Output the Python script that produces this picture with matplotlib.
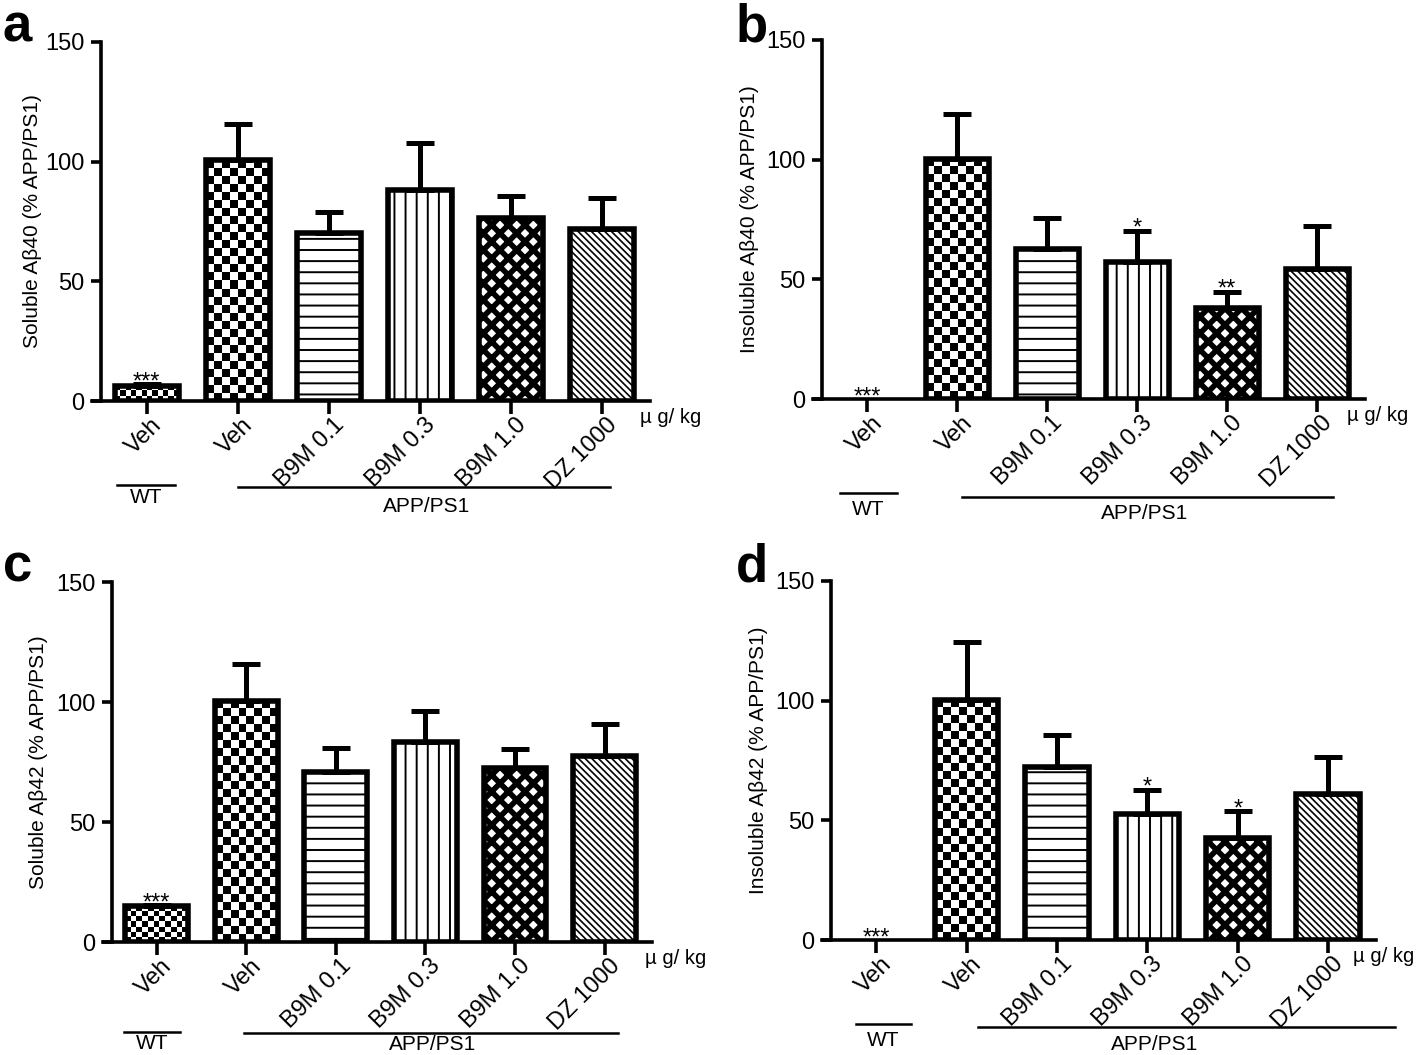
import numpy as np
import matplotlib.pyplot as plt
from matplotlib.transforms import ScaledTranslation, blended_transform_factory

# group labels (x axis)
groups = ['Veh', 'Veh', 'B9M 0.1', 'B9M 0.3', 'B9M 1.0', 'DZ 1000']

# values (mean, SEM) in % of APP/PS1
sol40_mean = [6.3, 100.5, 70.4, 88.1, 76.5, 71.7]
sol40_sem = [0.8, 15.4, 8.6, 19.5, 9.1, 13.3]
insol40_mean = [0, 100.4, 62.5, 57.4, 37.9, 54.2]
insol40_sem = [0, 18.6, 13.2, 13.0, 7.0, 18.0]
sol42_mean = [15.0, 100.6, 71.0, 83.5, 72.4, 77.6]
sol42_sem = [0.3, 15.2, 9.7, 12.8, 8.0, 13.3]
insol42_mean = [0, 100.4, 72.2, 52.5, 42.6, 60.8]
insol42_sem = [0, 23.9, 13.6, 10.3, 11.3, 15.6]

sol40_stars = ['***', '', '', '', '', '']
insol40_stars = ['***', '', '', '*', '**', '']
sol42_stars = ['***', '', '', '', '', '']
insol42_stars = ['***', '', '', '*', '*', '']

plt.rcParams['font.family'] = ['Liberation Sans', 'DejaVu Sans']

fig = plt.figure(figsize=(7.09, 5.275), dpi=200)

# per-panel layout: axes rect, letter, ylabel, label x, unit x, WT line, APP line
panels = [
    dict(rect=[0.0649, 0.6199, 0.3935, 0.3403], letter='a', lx=0.002, ly=0.998,
         ylabel='Soluble Aβ40 (% APP/PS1)', ylx=-0.09, ux=5.42,
         mean=sol40_mean, sem=sol40_sem, stars=sol40_stars,
         wt=(-0.33, 0.31, -0.234, -0.27), app=(1.0, 5.09, -0.24, -0.295)),
    dict(rect=[0.5733, 0.6218, 0.3893, 0.3403], letter='b', lx=0.519, ly=0.998,
         ylabel='Insoluble Aβ40 (% APP/PS1)', ylx=-0.097, ux=5.33,
         mean=insol40_mean, sem=insol40_sem, stars=insol40_stars,
         wt=(-0.3, 0.33, -0.262, -0.309), app=(1.06, 5.18, -0.273, -0.318)),
    dict(rect=[0.0726, 0.1071, 0.3872, 0.3412], letter='c', lx=0.002, ly=0.486,
         ylabel='Soluble Aβ42 (% APP/PS1)', ylx=-0.10, ux=5.45,
         mean=sol42_mean, sem=sol42_sem, stars=sol42_stars,
         wt=(-0.36, 0.26, -0.25, -0.283), app=(0.98, 5.15, -0.253, -0.285)),
    dict(rect=[0.5797, 0.1090, 0.3907, 0.3403], letter='d', lx=0.519, ly=0.486,
         ylabel='Insoluble Aβ42 (% APP/PS1)', ylx=-0.097, ux=5.27,
         mean=insol42_mean, sem=insol42_sem, stars=insol42_stars,
         wt=(-0.22, 0.38, -0.234, -0.281), app=(1.13, 5.74, -0.242, -0.292)),
]

# bar fill styles: (kind, pattern, hatch lw / checker cell px)
styles = [('check', None, 5.5), ('check', None, 8.0), ('hatch', '---', 0.7),
          ('hatch', '|||', 0.7), ('hatch', 'xxxx', 2.0), ('hatch', '\\' * 10, 0.6)]

x = np.arange(len(groups))
for p in panels:
    ax = fig.add_axes(p['rect'])
    ax.set_xlim(-0.6, 5.53)
    ax.set_ylim(0, 150)
    mean = np.array(p['mean'])
    sem = np.array(p['sem'])
    bars = ax.bar(x, mean, width=0.7, facecolor='none', edgecolor='k',
                  linewidth=2.0, zorder=2)
    for b, (kind, pat, val), m in zip(bars, styles, mean):
        if m == 0:
            b.set_linewidth(0)
            continue
        if kind == 'hatch':
            b.set_facecolor('white')
            b.set_hatch(pat)
            if hasattr(b, 'set_hatch_linewidth'):
                b.set_hatch_linewidth(val)
    # checkerboard fills, clipped to the bar patches
    fig.canvas.draw()
    for b, (kind, pat, val), m in zip(bars, styles, mean):
        if kind != 'check' or m == 0:
            continue
        x0, x1 = b.get_x(), b.get_x() + b.get_width()
        p0 = ax.transData.transform((x0, 0))
        p1 = ax.transData.transform((x1, m))
        nc = max(1, int(round((p1[0] - p0[0]) / val)))
        nr = max(1, int(round((p1[1] - p0[1]) / val)))
        board = np.indices((nr, nc)).sum(axis=0) % 2
        im = ax.imshow(board, extent=(x0, x1, 0, m), cmap='gray', aspect='auto',
                       interpolation='nearest', zorder=1, vmin=0, vmax=1)
        im.set_clip_path(b)
    ax.set_xlim(-0.6, 5.53)
    ax.set_ylim(0, 150)

    ok = sem > 0
    ax.errorbar(x[ok], mean[ok], yerr=[np.zeros(ok.sum()), sem[ok]], fmt='none',
                ecolor='k', elinewidth=1.8, capsize=5, capthick=1.8, zorder=3)
    for xi, m, s, st in zip(x, mean, sem, p['stars']):
        if st:
            ax.annotate(st, (xi, m + s), xytext=(0, -1.5), textcoords='offset points',
                        ha='center', va='baseline', fontsize=8.5)

    for side in ['top', 'right']:
        ax.spines[side].set_visible(False)
    ax.spines['left'].set_position(('data', -0.5))
    ax.spines['left'].set_linewidth(1.3)
    ax.spines['bottom'].set_linewidth(1.3)
    ax.set_yticks([0, 50, 100, 150])
    ax.tick_params(axis='y', direction='out', length=3.5, width=1.3, pad=2.5,
                   labelsize=8.5)
    ax.tick_params(axis='x', direction='out', length=4.5, width=1.3, pad=2,
                   labelsize=8.5)
    ax.set_xticks(x)
    ax.set_xticklabels(groups, rotation=45, ha='right', va='center',
                       rotation_mode='anchor')
    off = ScaledTranslation(0.06, -0.015, fig.dpi_scale_trans)
    for lab in ax.get_xticklabels():
        lab.set_transform(lab.get_transform() + off)

    ax.set_ylabel(p['ylabel'], fontsize=7.5)
    ax.yaxis.set_label_coords(p['ylx'], 0.5)

    tr = blended_transform_factory(ax.transData, ax.transAxes)
    ax.text(p['ux'], -0.045, 'µ g/ kg', transform=tr, ha='left', va='center',
            fontsize=7.3)
    w0, w1, wy, wty = p['wt']
    ax.plot([w0, w1], [wy, wy], color='k', lw=0.9, transform=tr, clip_on=False)
    ax.text((w0 + w1) / 2, wty, 'WT', transform=tr, ha='center', va='center',
            fontsize=7.5)
    a0, a1, ay, aty = p['app']
    ax.plot([a0, a1], [ay, ay], color='k', lw=0.9, transform=tr, clip_on=False)
    ax.text(3.08, aty, 'APP/PS1', transform=tr, ha='center', va='center',
            fontsize=7.5)

    fig.text(p['lx'], p['ly'], p['letter'], fontsize=19, fontweight='bold',
             ha='left', va='top')

fig.savefig('out.png', dpi=200)
